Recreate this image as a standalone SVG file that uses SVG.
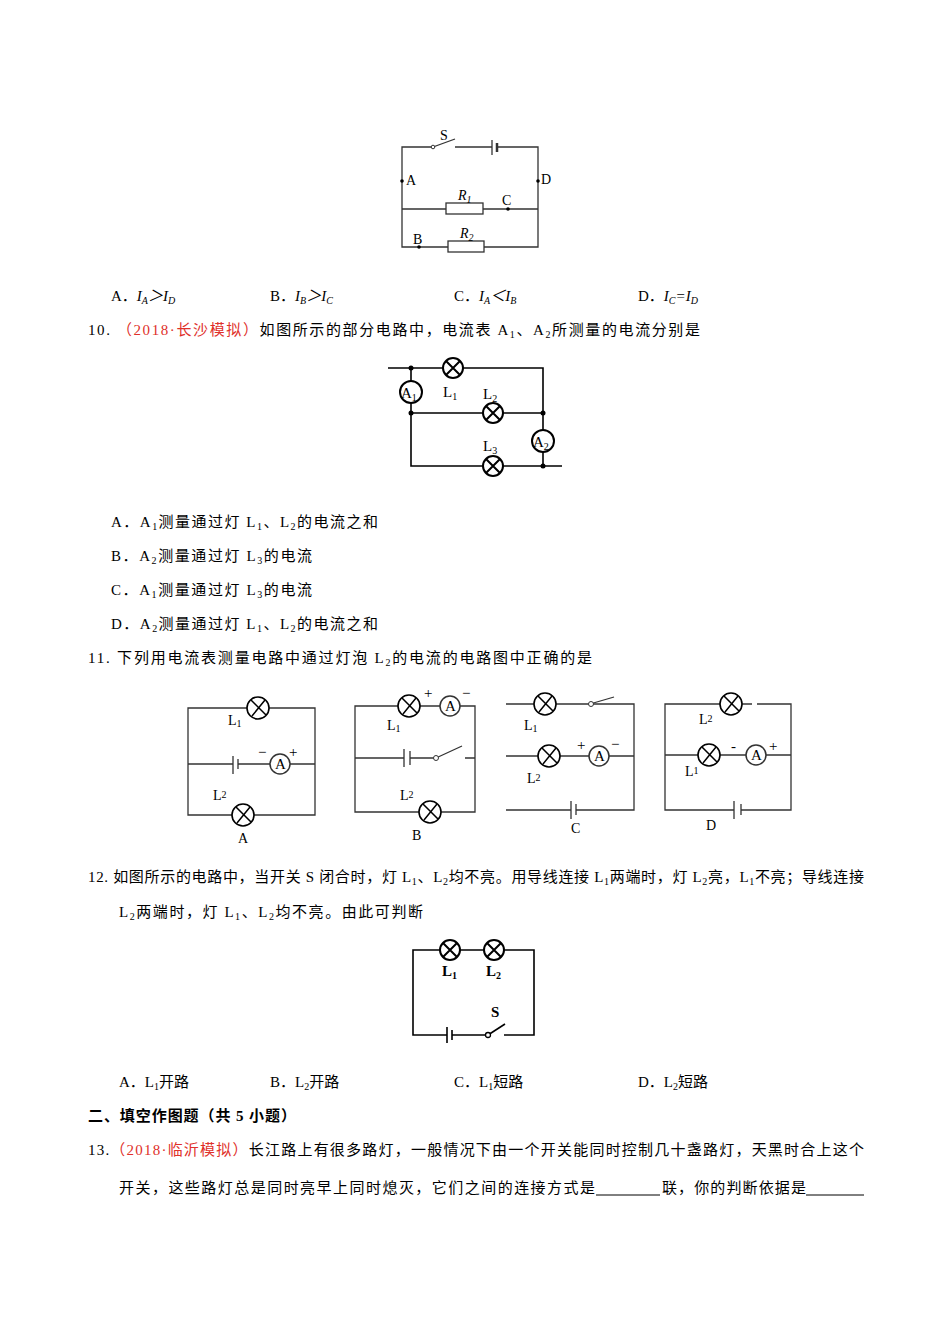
<svg xmlns="http://www.w3.org/2000/svg" width="950" height="1344" viewBox="0 0 950 1344">
<style>
text{font-family:"Liberation Serif","Noto Sans CJK SC",serif;font-size:15px;fill:#000}
.w{fill:none;stroke:#000;stroke-width:1.6}
.t{fill:none;stroke:#333;stroke-width:1.3}
.s{font-size:10px}
.r{fill:#e0302a}
.lab{font-size:14px}
</style>
<defs>
<g id="lamp"><circle r="10" fill="#fff" stroke="#000" stroke-width="2"/><path d="M-7,-7L7,7M7,-7L-7,7" stroke="#000" stroke-width="2"/></g>
<g id="lamp2"><circle r="11" fill="#fff" stroke="#000" stroke-width="1.6"/><path d="M-7,-8L8,7M7,-8L-6,8" stroke="#000" stroke-width="1.5"/></g>
</defs>
<rect width="950" height="1344" fill="#fff"/>

<g id="q9">
<path class="t" d="M433,147H402V247H538V147H498M455,147H492M402,209H446M483,209H538M402,247H448M484,247"/>
<path class="t" d="M433,147L455,139"/><circle cx="433" cy="147" r="1.8" fill="#fff" stroke="#333"/>
<path stroke="#333" stroke-width="1.3" d="M492,140V155"/><path stroke="#333" stroke-width="2.5" d="M497,143V152"/>
<rect x="446" y="203" width="37" height="11" fill="#fff" stroke="#333" stroke-width="1.3"/>
<rect x="448" y="241" width="36" height="11" fill="#fff" stroke="#333" stroke-width="1.3"/>
<g fill="#000"><circle cx="402" cy="181" r="1.8"/><circle cx="538" cy="181" r="1.8"/><circle cx="508" cy="209" r="1.8"/><circle cx="419" cy="247" r="1.8"/></g>
<text x="440" y="140" class="lab">S</text><text x="406" y="185" class="lab">A</text><text x="541" y="184" class="lab">D</text>
<text x="458" y="200" class="lab" font-style="italic">R<tspan class="s" dy="3">1</tspan></text><text x="502" y="205" class="lab">C</text>
<text x="460" y="238" class="lab" font-style="italic">R<tspan class="s" dy="3">2</tspan></text><text x="413" y="244" class="lab">B</text>
</g>
<text x="111" y="301">A．<tspan font-style="italic">I<tspan class="s" dy="3">A</tspan><tspan dy="-3">＞I</tspan><tspan class="s" dy="3">D</tspan></tspan></text>
<text x="270" y="301">B．<tspan font-style="italic">I<tspan class="s" dy="3">B</tspan><tspan dy="-3">＞I</tspan><tspan class="s" dy="3">C</tspan></tspan></text>
<text x="454" y="301">C．<tspan font-style="italic">I<tspan class="s" dy="3">A</tspan><tspan dy="-3">＜I</tspan><tspan class="s" dy="3">B</tspan></tspan></text>
<text x="638" y="301">D．<tspan font-style="italic">I<tspan class="s" dy="3">C</tspan><tspan dy="-3">=I</tspan><tspan class="s" dy="3">D</tspan></tspan></text>

<text x="88" y="335" textLength="612" lengthAdjust="spacing">10.  <tspan class="r">（2018·长沙模拟）</tspan>如图所示的部分电路中，电流表 A<tspan class="s" dy="3">1</tspan><tspan dy="-3">、A</tspan><tspan class="s" dy="3">2</tspan><tspan dy="-3">所测量的电流分别是</tspan></text>
<g id="q10">
<path class="w" d="M388,368H543V466M411,368V466H562M411,413H543"/>
<use href="#lamp" x="453" y="368"/><use href="#lamp" x="493" y="413"/><use href="#lamp" x="493" y="466"/>
<circle cx="411" cy="392" r="11" fill="#fff" stroke="#000" stroke-width="2"/><text x="401" y="398" font-size="15">A<tspan class="s" dy="3">1</tspan></text>
<circle cx="543" cy="441" r="11" fill="#fff" stroke="#000" stroke-width="2"/><text x="533" y="447" font-size="15">A<tspan class="s" dy="3">2</tspan></text>
<g fill="#000"><circle cx="411" cy="368" r="2.5"/><circle cx="411" cy="413" r="2.5"/><circle cx="543" cy="413" r="2.5"/><circle cx="543" cy="466" r="2.5"/></g>
<text x="443" y="397" font-size="17">L<tspan class="s" dy="3">1</tspan></text><text x="483" y="399" font-size="17">L<tspan class="s" dy="3">2</tspan></text><text x="483" y="451" font-size="17">L<tspan class="s" dy="3">3</tspan></text>
</g>
<text x="111" y="527" textLength="267" lengthAdjust="spacing">A．A<tspan class="s" dy="3">1</tspan><tspan dy="-3">测量通过灯 L</tspan><tspan class="s" dy="3">1</tspan><tspan dy="-3">、L</tspan><tspan class="s" dy="3">2</tspan><tspan dy="-3">的电流之和</tspan></text>
<text x="111" y="561" textLength="201" lengthAdjust="spacing">B．A<tspan class="s" dy="3">2</tspan><tspan dy="-3">测量通过灯 L</tspan><tspan class="s" dy="3">3</tspan><tspan dy="-3">的电流</tspan></text>
<text x="111" y="595" textLength="201" lengthAdjust="spacing">C．A<tspan class="s" dy="3">1</tspan><tspan dy="-3">测量通过灯 L</tspan><tspan class="s" dy="3">3</tspan><tspan dy="-3">的电流</tspan></text>
<text x="111" y="629" textLength="267" lengthAdjust="spacing">D．A<tspan class="s" dy="3">2</tspan><tspan dy="-3">测量通过灯 L</tspan><tspan class="s" dy="3">1</tspan><tspan dy="-3">、L</tspan><tspan class="s" dy="3">2</tspan><tspan dy="-3">的电流之和</tspan></text>
<text x="88" y="663" textLength="504" lengthAdjust="spacing">11.  下列用电流表测量电路中通过灯泡 L<tspan class="s" dy="3">2</tspan><tspan dy="-3">的电流的电路图中正确的是</tspan></text>

<g id="q11A">
<path class="t" d="M188,708H315V815H188ZM188,764H233M238,764H315"/>
<path stroke="#333" stroke-width="1.3" d="M233,756V774M238,759V769"/>
<use href="#lamp2" x="258" y="708"/><use href="#lamp2" x="243" y="815"/>
<circle cx="280" cy="764" r="10" fill="#fff" stroke="#333" stroke-width="1.5"/><text x="275" y="769" font-size="12">A</text>
<text x="258" y="757" font-size="14">−</text><text x="289" y="757" font-size="15">+</text>
<text x="228" y="725" class="lab">L<tspan class="s" dy="2">1</tspan></text><text x="213" y="800" class="lab">L<tspan class="s" dy="-2">2</tspan></text><text x="238" y="843" class="lab">A</text>
</g>
<g id="q11B">
<path class="t" d="M409,706H355V812H475V758H465M462,746L436,758M436,758H410M404,758H355M420,706H440M460,706H475V758"/>
<path stroke="#333" stroke-width="1.3" d="M404,749V767M410,751V765"/>
<circle cx="436" cy="758" r="2.5" fill="#fff" stroke="#333"/>
<use href="#lamp2" x="409" y="706"/><use href="#lamp2" x="430" y="812"/>
<circle cx="450" cy="706" r="10" fill="#fff" stroke="#333" stroke-width="1.5"/><text x="445" y="711" font-size="12">A</text>
<text x="424" y="698" font-size="14">+</text><text x="462" y="698" font-size="14">−</text>
<text x="387" y="730" class="lab">L<tspan class="s" dy="2">1</tspan></text><text x="400" y="800" class="lab">L<tspan class="s" dy="-2">2</tspan></text><text x="412" y="840" class="lab">B</text>
</g>
<g id="q11C">
<path class="t" d="M506,704H634V810H576M571,810H506ZM506,756H634"/>
<path stroke="#333" stroke-width="1.3" d="M571,801V819M576,804V815"/>
<path class="t" d="M590,704L614,697"/><circle cx="591" cy="704" r="2.5" fill="#fff" stroke="#333"/>
<use href="#lamp2" x="545" y="704"/><use href="#lamp2" x="549" y="756"/>
<circle cx="599" cy="756" r="10" fill="#fff" stroke="#333" stroke-width="1.5"/><text x="594" y="761" font-size="12">A</text>
<text x="577" y="750" font-size="14">+</text><text x="611" y="749" font-size="14">−</text>
<text x="524" y="730" class="lab">L<tspan class="s" dy="2">1</tspan></text><text x="527" y="783" class="lab">L<tspan class="s" dy="-2">2</tspan></text><text x="571" y="833" class="lab">C</text>
</g>
<g id="q11D">
<path class="t" d="M752,704H665V810H734M741,810H791V704H757M665,755H791"/>
<path stroke="#333" stroke-width="1.3" d="M734,801V819M741,804V815"/>
<use href="#lamp2" x="731" y="704"/><use href="#lamp2" x="709" y="755"/>
<circle cx="756" cy="755" r="10" fill="#fff" stroke="#333" stroke-width="1.5"/><text x="751" y="760" font-size="12">A</text>
<text x="731" y="751" font-size="14">-</text><text x="769" y="751" font-size="14">+</text>
<text x="699" y="724" class="lab">L<tspan class="s" dy="-2">2</tspan></text><text x="685" y="776" class="lab">L<tspan class="s" dy="-2">1</tspan></text><text x="706" y="830" class="lab">D</text>
</g>

<text x="88" y="882" textLength="776" lengthAdjust="spacing">12. 如图所示的电路中，当开关 S 闭合时，灯 L<tspan class="s" dy="3">1</tspan><tspan dy="-3">、L</tspan><tspan class="s" dy="3">2</tspan><tspan dy="-3">均不亮。用导线连接 L</tspan><tspan class="s" dy="3">1</tspan><tspan dy="-3">两端时，灯 L</tspan><tspan class="s" dy="3">2</tspan><tspan dy="-3">亮，L</tspan><tspan class="s" dy="3">1</tspan><tspan dy="-3">不亮；导线连接</tspan></text>
<text x="119" y="917" textLength="304" lengthAdjust="spacing">L<tspan class="s" dy="3">2</tspan><tspan dy="-3">两端时，灯 L</tspan><tspan class="s" dy="3">1</tspan><tspan dy="-3">、L</tspan><tspan class="s" dy="3">2</tspan><tspan dy="-3">均不亮。由此可判断</tspan></text>
<g id="q12">
<path class="w" d="M504,1035H534V950H413V1035H447M452,1035H488"/>
<path stroke="#000" stroke-width="1.6" d="M447,1027V1043M452,1030V1040"/>
<path class="w" d="M488,1035L505,1024"/><circle cx="488" cy="1035" r="2.5" fill="#fff" stroke="#000" stroke-width="1.3"/>
<use href="#lamp" x="450" y="950"/><use href="#lamp" x="494" y="950"/>
<text x="442" y="976" font-size="16" font-weight="bold">L<tspan class="s" dy="3">1</tspan></text><text x="486" y="976" font-size="16" font-weight="bold">L<tspan class="s" dy="3">2</tspan></text>
<text x="491" y="1017" font-size="15" font-weight="bold">S</text>
</g>
<text x="119" y="1087">A．L<tspan class="s" dy="3">1</tspan><tspan dy="-3">开路</tspan></text>
<text x="270" y="1087">B．L<tspan class="s" dy="3">2</tspan><tspan dy="-3">开路</tspan></text>
<text x="454" y="1087">C．L<tspan class="s" dy="3">1</tspan><tspan dy="-3">短路</tspan></text>
<text x="638" y="1087">D．L<tspan class="s" dy="3">2</tspan><tspan dy="-3">短路</tspan></text>
<text x="88" y="1121" font-weight="bold" textLength="208" lengthAdjust="spacing">二、填空作图题（共 5 小题）</text>
<text x="88" y="1155" textLength="776" lengthAdjust="spacing">13.<tspan class="r">（2018·临沂模拟）</tspan>长江路上有很多路灯，一般情况下由一个开关能同时控制几十盏路灯，天黑时合上这个</text>
<text x="119" y="1193" textLength="476" lengthAdjust="spacing">开关，这些路灯总是同时亮早上同时熄灭，它们之间的连接方式是</text>
<text x="662" y="1193" textLength="144" lengthAdjust="spacing">联，你的判断依据是</text>
<path stroke="#000" d="M596,1195H660M806,1195H864"/>
</svg>
